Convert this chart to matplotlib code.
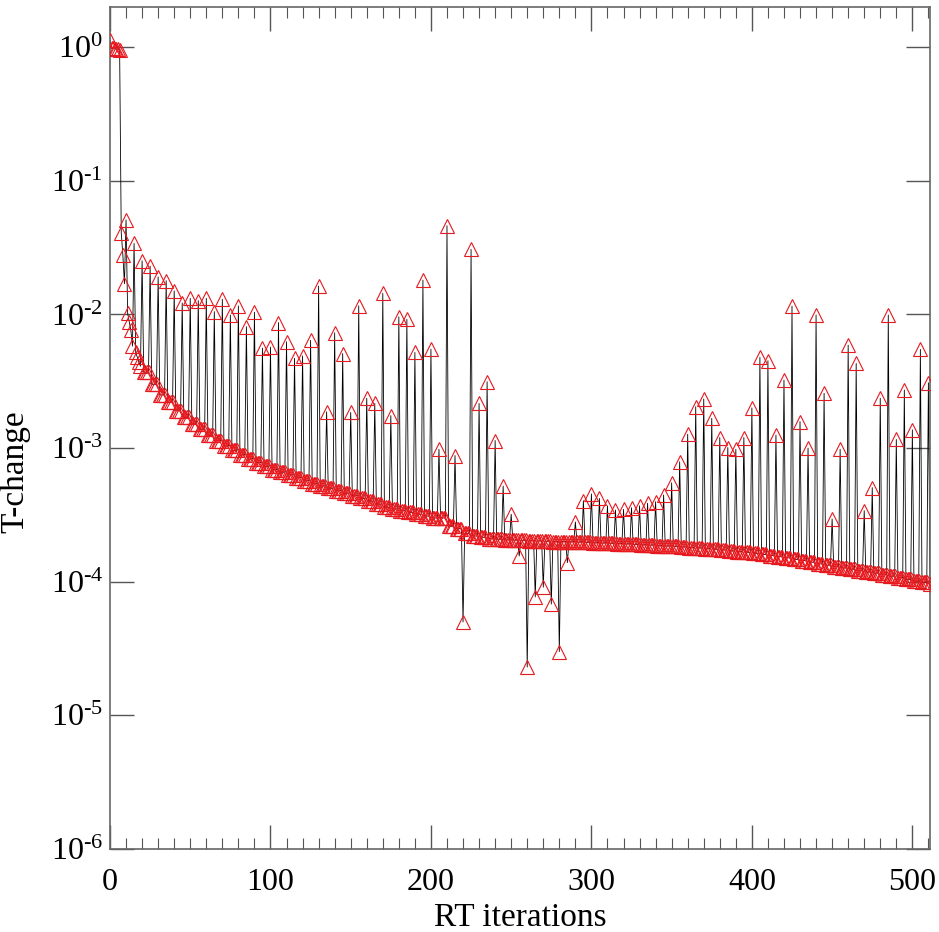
import numpy as np
import matplotlib
matplotlib.use('Agg')
import matplotlib.pyplot as plt
from matplotlib.ticker import FixedLocator, MultipleLocator, FuncFormatter

plt.rcParams['font.family'] = 'Liberation Serif'
plt.rcParams['mathtext.fontset'] = 'custom'
plt.rcParams['mathtext.rm'] = 'Liberation Serif'

# iterations 0..19, read one by one
head_vals = [1.13, 0.98, 0.98, 0.97, 0.97, 0.97, 0.96, 0.041, 0.028, 0.017,
             0.051, 0.0102, 0.0088, 0.0076, 0.0058, 0.034, 0.0052, 0.0048, 0.0044, 0.0041]

# every 5th iteration from 20 to 510
spike_vals = [0.0252, 0.0230, 0.0191, 0.0179, 0.0150, 0.0122, 0.0132, 0.0127, 0.0132, 0.0105,
              0.0130, 0.0099, 0.0116, 0.0081, 0.0104, 0.0056, 0.0057, 0.0087, 0.00625, 0.0047,
              0.0049, 0.0064, 0.0163, 0.00187, 0.0073, 0.0051, 0.00185, 0.0116, 0.00236, 0.00216,
              0.0144, 0.00175, 0.0096, 0.0092, 0.0052, 0.0181, 0.0055, 0.00098, 0.0461, 0.00088,
              5.0e-5, 0.0307, 0.00216, 0.00314, 0.00114, 0.00052, 0.00032, 0.000156, 2.3e-5, 7.7e-5,
              9.1e-5, 6.8e-5, 3.0e-5, 0.000139, 0.00028, 0.000404, 0.000454, 0.00042, 0.00037, 0.000344,
              0.000348, 0.000358, 0.00037, 0.000387, 0.000397, 0.000446, 0.00055, 0.00079, 0.00127, 0.00204,
              0.00233, 0.00167, 0.0012, 0.00101, 0.00098, 0.0012, 0.002, 0.00478, 0.00451, 0.00125,
              0.00323, 0.01155, 0.00158, 0.001, 0.0099, 0.00257, 0.000295, 0.00098, 0.0059, 0.0043,
              0.00034, 0.000506, 0.00236, 0.0099, 0.00116, 0.00272, 0.00137, 0.00548, 0.00308]

# baseline level for the 4 iterations between spikes (21-24, 26-29, ..., 506-509)
base_vals = [0.0037, 0.0030, 0.0025, 0.0022, 0.0019, 0.0017, 0.00152, 0.00138, 0.00125, 0.00114,
             0.00104, 0.00096, 0.00089, 0.00083, 0.00078, 0.00073, 0.00069, 0.00066, 0.00063, 0.00060,
             0.00057, 0.00054, 0.00052, 0.00050, 0.00048, 0.00046, 0.00044, 0.00042, 0.00040, 0.00038,
             0.00036, 0.00035, 0.00034, 0.00033, 0.00032, 0.00031, 0.00030, 0.00030, 0.00026, 0.00025,
             0.00023, 0.00022, 0.000215, 0.00021, 0.000208, 0.000206, 0.000205, 0.000204, 0.000203, 0.000202,
             0.000201, 0.0002, 0.0002, 0.000199, 0.000198, 0.000197, 0.000196, 0.000195, 0.000194, 0.000193,
             0.000192, 0.00019, 0.000189, 0.000188, 0.000186, 0.000185, 0.000184, 0.000182, 0.00018, 0.000179,
             0.000177, 0.000175, 0.000173, 0.00017, 0.000168, 0.000166, 0.000163, 0.00016, 0.000157, 0.000154,
             0.000151, 0.000147, 0.000144, 0.00014, 0.000136, 0.000133, 0.00013, 0.000127, 0.000124, 0.000121,
             0.000118, 0.000116, 0.000113, 0.00011, 0.000107, 0.000104, 0.000101, 0.000099]
last_val = 0.000096

y_tick_exps = [0, -1, -2, -3, -4, -5, -6]
x_ticks = [0, 100, 200, 300, 400, 500]

tchange = list(head_vals)
for s, b in zip(spike_vals[:-1], base_vals):
    tchange += [s, b, b, b, b]
tchange += [spike_vals[-1], last_val]
iters = np.arange(len(tchange))


def exp_label(v, pos):
    e = int(round(np.log10(v)))
    # short hyphen in the exponent, like the original
    s = str(e).replace('-', '\u2010')
    return r'$\mathregular{10^{%s}}$' % s


fig = plt.figure(figsize=(9.39, 9.32), dpi=100)
ax = fig.add_axes([110 / 939, 83 / 932, 820 / 939, 842 / 932])

ax.plot(iters, tchange, color='black', lw=0.6, zorder=2)
ax.plot(iters, tchange, ls='none', marker='^', ms=10, mfc='none',
        mec='#e8191e', mew=0.8, zorder=3)

ax.set_yscale('log')
ax.set_xlim(0, 511)
ax.set_ylim(1e-6, 2.0)

ax.xaxis.set_major_locator(FixedLocator(x_ticks))
ax.xaxis.set_minor_locator(MultipleLocator(10))
ax.yaxis.set_major_locator(FixedLocator([10.0 ** e for e in y_tick_exps]))
ax.yaxis.set_minor_locator(FixedLocator([]))
ax.yaxis.set_major_formatter(FuncFormatter(exp_label))

ax.tick_params(which='both', direction='in', top=True, right=True, labelsize=23, color='#555555')
ax.tick_params(which='major', length=17, width=1.0)
ax.tick_params(axis='x', which='major', pad=14)
ax.tick_params(axis='y', which='major', pad=5)
ax.tick_params(which='minor', length=8, width=0.8)
for sp in ax.spines.values():
    sp.set_color('#666666')
    sp.set_linewidth(1.2)

ax.set_xlabel('RT iterations', fontsize=24, labelpad=4)
ax.set_ylabel('T-change', fontsize=24)
ax.yaxis.set_label_coords(-0.097, 0.448)

fig.savefig('out.png', dpi=100)
